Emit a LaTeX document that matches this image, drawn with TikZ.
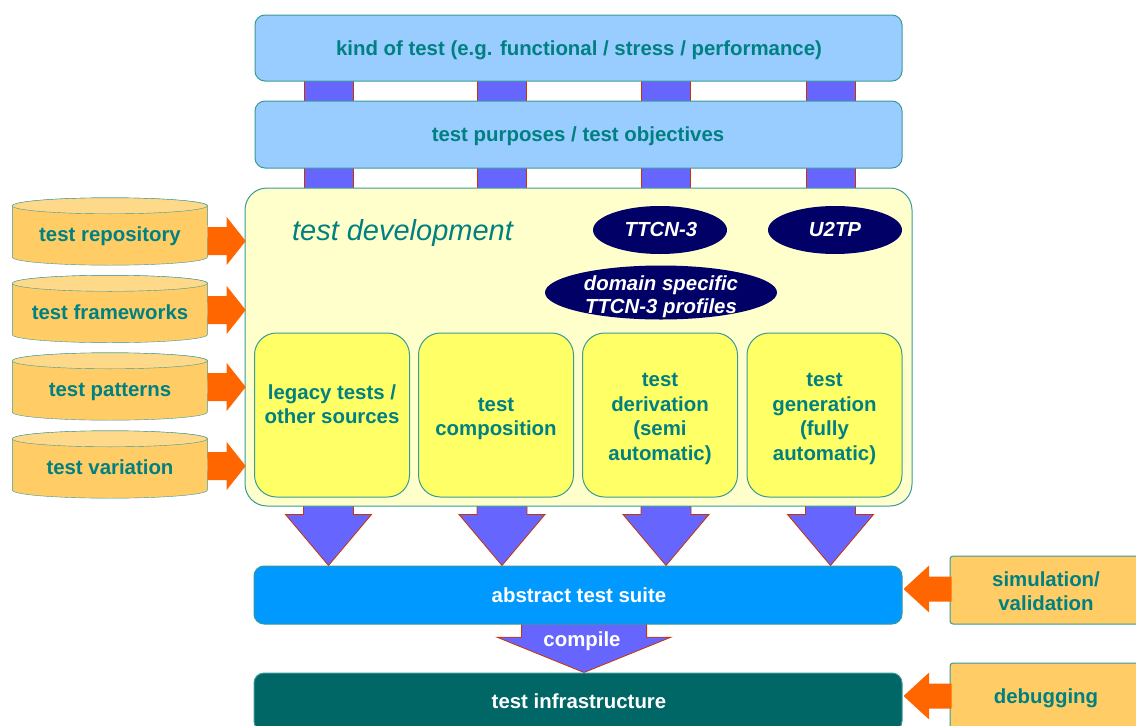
\documentclass[tikz,border=0pt]{standalone}
\usepackage{fontspec}
\setmainfont{Liberation Sans}
\usetikzlibrary{shapes.geometric,calc}
\pgfdeclarelayer{bg}
\pgfsetlayers{bg,main}
\definecolor{tealtxt}{HTML}{008080}
\definecolor{tealbd}{HTML}{3A9A9A}
\definecolor{lblue}{HTML}{99CCFF}
\definecolor{lyellow}{HTML}{FFFFCC}
\definecolor{yel}{HTML}{FFFF66}
\definecolor{cylc}{HTML}{FFCC66}
\definecolor{cyltop}{HTML}{FFD98A}
\definecolor{navy}{HTML}{000066}
\definecolor{atsc}{HTML}{0099FF}
\definecolor{infc}{HTML}{006666}
\definecolor{orng}{HTML}{FF6600}
\definecolor{barc}{HTML}{6666FF}
\definecolor{redl}{HTML}{CC3300}
\newcommand\mycyl[3]{%
  \node[cylbox] (#1) at (110,#2) {};
  \node[sl] (#1t) at ($(#1)+(0,-3)$) {#3};
  \begin{pgfonlayer}{bg}
  \filldraw[draw=tealbd, fill=cylc] ([yshift=-8pt]#1.north west) -- ([yshift=8pt]#1.south west)
    arc[start angle=180, end angle=360, x radius=97.5pt, y radius=8pt]
    -- ([yshift=-8pt]#1.north east)
    arc[start angle=0, end angle=180, x radius=97.5pt, y radius=8pt] -- cycle;
  \filldraw[draw=tealbd, fill=cyltop] ([yshift=-8pt]#1.north west)
    arc[start angle=180, end angle=-180, x radius=97.5pt, y radius=8pt];
  \end{pgfonlayer}}
\begin{document}
\begin{tikzpicture}[x=1pt,y=1pt,
  every node/.style={font=\fontsize{20.4}{24.4}\selectfont\bfseries, text=tealtxt, align=center, inner sep=0pt},
  sl/.style={text height=14.6pt, text depth=0pt},
  bar/.style={draw=tealbd, line width=1pt, fill=lblue, rounded corners=10pt, minimum width=647pt, minimum height=66pt},
  devbox/.style={draw=tealbd, line width=1pt, fill=lyellow, rounded corners=22pt, minimum width=667pt, minimum height=318pt},
  innerbox/.style={draw=tealbd, line width=1pt, fill=yel, rounded corners=22pt, minimum width=155pt, minimum height=164pt},
  ell/.style={ellipse, fill=navy},
  elltext/.style={text=white, font=\fontsize{20.4}{23}\selectfont\bfseries\itshape},
  cylbox/.style={minimum width=195pt, minimum height=67pt},
  suite/.style={draw=tealbd, line width=1pt, fill=atsc, rounded corners=10pt, minimum width=648pt, minimum height=58pt},
  side/.style={draw=tealbd, line width=1pt, fill=cylc, rounded corners=3pt, minimum width=192pt, minimum height=68pt},
  barfill/.style={fill=barc, draw=redl, line width=0.8pt},
  pics/rarr/.style={code={\fill[orng] (0,14) -- (19,14) -- (19,24) -- (38,0) -- (19,-24) -- (19,-14) -- (0,-14) -- cycle;}},
  pics/larr/.style={code={\fill[orng] (0,0) -- (25.6,23.5) -- (25.6,12.5) -- (48,12.5) -- (48,-12.5) -- (25.6,-12.5) -- (25.6,-23.5) -- cycle;}},
  pics/darr/.style={code={\filldraw[barfill] (-25,20) -- (-25,0) -- (-43,0) -- (0,-51) -- (43,0) -- (25,0) -- (25,20) -- cycle;}},
  pics/carr/.style={code={\filldraw[barfill] (-62.6,10) -- (-62.6,-12.7) -- (-87,-12.7) -- (0,-48) -- (87,-12.7) -- (62.6,-12.7) -- (62.6,10) -- cycle;}}
]
\useasboundingbox (0,0) rectangle (1136,-726);
\clip (0,0) rectangle (1136,-726);

\coordinate (c1) at (328.5,0);
\coordinate (c2) at (502,0);
\coordinate (c3) at (666,0);
\coordinate (c4) at (830.5,0);
\coordinate (cc) at (584,0);

% top bars
\node[bar] (kind) at (578.5,-48) {};
\node[sl] (kindt) at (579,-48.3) {kind of test (e.g. functional / stress / performance)};
\node[bar, minimum height=67pt] (purp) at (578.5,-134.5) {};
\node[sl] (purpt) at (578,-134.5) {test purposes / test objectives};

% development box
\node[devbox] (dev) at (578.5,-347) {};
\node[font=\fontsize{29}{32}\selectfont\itshape, text height=21pt, text depth=0pt] (devt) at (402.5,-229.7) {test development};

\node[ell, minimum width=134pt, minimum height=48pt] (ttcn) at (660,-230) {};
\node[elltext, sl] (ttcnt) at (661,-229.5) {TTCN-3};
\node[ell, minimum width=134pt, minimum height=48pt] (u2tp) at (835,-230) {};
\node[elltext, sl] (u2tpt) at (835,-229.5) {U2TP};
\node[ell, minimum width=232pt, minimum height=54pt] (dom) at (661,-292.5) {};
\node[elltext] (domt) at ($(dom)+(0,-4.5)$) {domain specific\\TTCN-3 profiles};

\node[innerbox] (leg) at (332,-415) {};
\node (legt) at (332,-404) {legacy tests /\\other sources};
\node[innerbox] (comp) at (496,-415) {};
\node (compt) at ($(comp)+(0,-4)$) {test\\composition};
\node[innerbox] (deriv) at (660,-415) {};
\node (derivt) at ($(deriv)+(0,-4)$) {test\\derivation\\(semi\\automatic)};
\node[innerbox] (gen) at (824.5,-415) {};
\node (gent) at ($(gen)+(0,-4)$) {test\\generation\\(fully\\automatic)};

% cylinders
\mycyl{rep}{-231.5}{test repository}
\mycyl{frm}{-309}{test frameworks}
\mycyl{pat}{-386.5}{test patterns}
\mycyl{var}{-464.5}{test variation}

\pic at ([yshift=-9.5pt]rep.east) {rarr};
\pic at ([yshift=-1pt]frm.east) {rarr};
\pic at ([yshift=-0.5pt]pat.east) {rarr};
\pic at ([yshift=-1.5pt]var.east) {rarr};

% suite boxes
\node[suite] (ats) at (578,-595) {};
\node[sl, text=white] (atst) at (579,-595.5) {abstract test suite};
\node[suite, fill=infc] (infra) at (578,-702) {};
\node[sl, text=white] (infrat) at (579,-701) {test infrastructure};

\node[side] (sim) at (1046,-590) {};
\node (simt) at ($(sim)+(0,-1.5)$) {simulation/\\validation};
\node[side] (dbg) at (1046,-697) {};
\node[sl] (dbgt) at (1046,-696) {debugging};

\pic at ($(ats.east)+(1,6)$) {larr};
\pic at ($(infra.east)+(1,6)$) {larr};

% background connectors
\begin{pgfonlayer}{bg}
\foreach \c in {c1,c2,c3,c4}{
  \filldraw[barfill] ($(\c |- kind.south)+(-24.5,4)$) rectangle ($(\c |- purp.north)+(24.5,-4)$);
  \filldraw[barfill] ($(\c |- purp.south)+(-24.5,4)$) rectangle ($(\c |- dev.north)+(24.5,-4)$);
  \pic at ($(\c |- ats.north)+(0,51)$) {darr};
}
\pic at (cc |- ats.south) {carr};
\end{pgfonlayer}
\node[sl, text=white] (cmp) at (582,-639.5) {compile};
\end{tikzpicture}
\end{document}
